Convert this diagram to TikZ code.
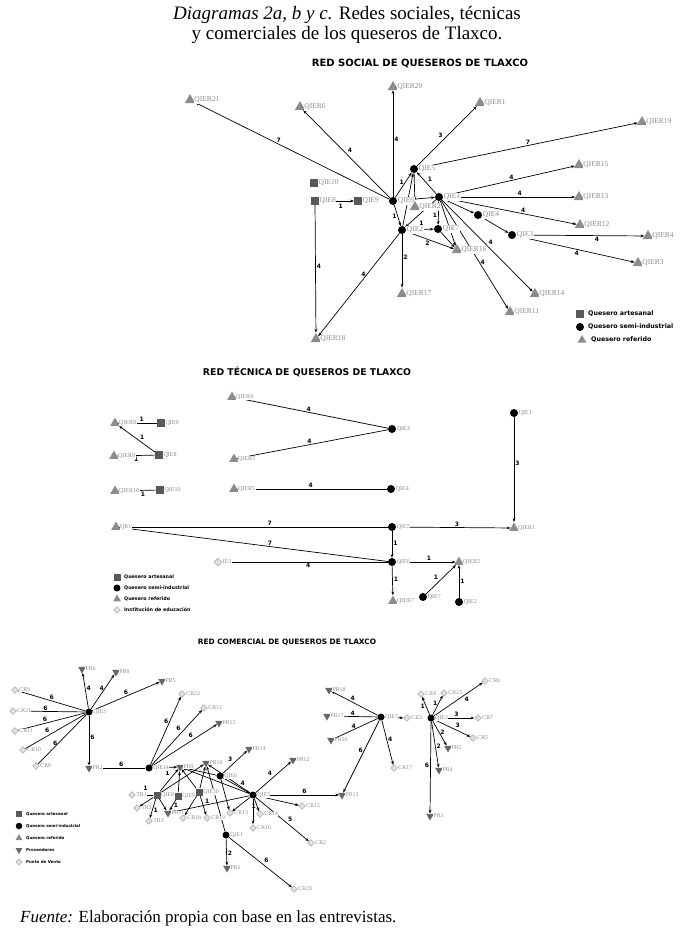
\documentclass[tikz,border=0pt]{standalone}
\usepackage{fontspec}
\setmainfont{Liberation Serif}
\newfontfamily\dejavu{DejaVu Sans}
\usetikzlibrary{arrows.meta,shapes.geometric,backgrounds}

\begin{document}
\begin{tikzpicture}[x=1pt,y=-1pt,
  qa/.style={rectangle,fill=black!65,minimum size=#1,inner sep=0pt},qa/.default=7.5pt,
  qs/.style={circle,fill=black,minimum size=#1,inner sep=0pt},qs/.default=8pt,
  qr/.style={regular polygon,regular polygon sides=3,fill=black!45,minimum size=#1,inner sep=0pt},qr/.default=12pt,
  pv/.style={regular polygon,regular polygon sides=3,shape border rotate=180,fill=black!60,minimum size=#1,inner sep=0pt},pv/.default=10pt,
  pt/.style={diamond,draw=black!40,fill=black!12,minimum size=#1,inner sep=0pt},pt/.default=8pt,
  lbl/.style={font=\fontsize{#1}{#1}\selectfont,text=black!45,inner sep=.5pt,fill=white},
  wt/.style={font=\dejavu\bfseries\fontsize{6}{6}\selectfont,inner sep=1pt},
  arr/.style={-{Stealth[length=3.8pt,width=2.8pt]},line width=.7pt},
  ln/.style={line width=.7pt},
  ley/.style={font=\dejavu\bfseries\fontsize{#1}{#1}\selectfont,anchor=west,inner sep=0pt},
  titulo/.style={font=\dejavu\bfseries\fontsize{#1}{#1}\selectfont}]
\useasboundingbox (0,0) rectangle (691,937);

% titulos
\node[font=\fontsize{19}{20}\selectfont,align=center] (tit) at (347,25)
  {\textit{Diagramas 2a, b y c.} Redes sociales, técnicas\\y comerciales de los queseros de Tlaxco.};
\node[titulo=10] (rs) at (420,64) {RED SOCIAL DE QUESEROS DE TLAXCO};
\node[titulo=9.3] (rt) at (307,372) {RED TÉCNICA DE QUESEROS DE TLAXCO};
\node[titulo=7.4] (rc) at (287,642) {RED COMERCIAL DE QUESEROS DE TLAXCO};
\node[anchor=base west,font=\fontsize{17}{17}\selectfont,inner sep=0pt] (fte) at (20,922)
  {\textit{Fuente:} Elaboración propia con base en las entrevistas.};

% red social
\foreach \x/\y/\l in {314/183/QIE10,315/201/QIE8,358/201/QIE9}
  \node[qa,label={[lbl=7.5]right:\l}] (s\l) at (\x,\y) {};
\foreach \x/\y/\l in {393/201/QIE6,414/169/QIE5,439/197/QIE1,402/230/QIE2,438/229/QIE7,478/215/QIE4,512/235/QIE3}
  \node[qs,label={[lbl=7.5]right:\l}] (s\l) at (\x,\y) {};
\foreach \x/\y/\l in {190/100/QIER21,300/107/QIER6,393/87/QIER20,480/103/QIER1,642/122/QIER19,579/165/QIER15,
    579/197/QIER13,580/225/QIER12,648/236/QIER4,638/263/QIER3,535/294/QIER14,510/312/QIER11,457/250/QIER16,
    402/294/QIER17,316/339/QIER18,415/207/QIER2}
  \node[qr,label={[lbl=7.5]right:\l}] (s\l) at (\x,\y) {};

\node[qa] (sl1) at (580,314) {};
\node[ley=6.3] (slt1) at (588,314) {Quesero artesanal};
\node[qs=8pt] (sl2) at (580,327) {};
\node[ley=6.3] (slt2) at (588,327) {Quesero semi-industrial};
\node[qr=10pt] (sl3) at (582,340) {};
\node[ley=6.3] (slt3) at (591,340) {Quesero referido};

% red tecnica
\foreach \x/\y/\l in {161/423/QIE9,159/455/QIE8,160/490/QIE10}
  \node[qa,label={[lbl=6]right:\l}] (t\l) at (\x,\y) {};
\foreach \x/\y/\l in {392/429/QIE3,391/489/QIE4,392/527/QIE5,392/562/QIE6,514/413/QIE1,423/597/QIE7,459/602/QIE2}
  \node[qs,label={[lbl=6]right:\l}] (t\l) at (\x,\y) {};
\foreach \x/\y/\l in {232/397/QIER4,115/423/QIER8,114/456/QIER9,234/459/QIER3,115/491/QIER10,234/489/QIER5,
    116/527/QR1,393/601/QIER7,514/528/QIER1,459/562/QIER2}
  \node[qr=11pt,label={[lbl=6]right:\l}] (t\l) at (\x,\y) {};
\node[pt,label={[lbl=6]right:IE1}] (tIE1) at (218,562) {};

\node[qa=7pt] (tl1) at (117,577) {};
\node[ley=4.8] (tlt1) at (124,577) {Quesero artesanal};
\node[qs=7pt] (tl2) at (117,588) {};
\node[ley=4.8] (tlt2) at (124,588) {Quesero semi-industrial};
\node[qr=9pt] (tl3) at (117,599) {};
\node[ley=4.8] (tlt3) at (124,599) {Quesero referido};
\node[pt=7pt] (tl4) at (117,610) {};
\node[ley=4.8] (tlt4) at (124,610) {Institución de educación};

% red comercial
\foreach \x/\y/\l in {157/795/QIE8,178/796/QIE9,199/792/QIE10}
  \node[qa=7pt,label={[lbl=5.8]right:\l}] (c\l) at (\x,\y) {};
\foreach \x/\y/\l in {89/712/QIE3,149/768/QIE14,220/776/QIE6,253/795/QIE5,226/835/QIE1,381/717/QIE7,431/718/QIE2}
  \node[qs=7pt,label={[lbl=5.8]right:\l}] (c\l) at (\x,\y) {};
\foreach \x/\y/\l in {82/669/PR6,116/672/PR8,162/681/PR5,89/768/PR2,180/767/PR9,206/763/PR10,219/723/PR15,
    249/749/PR14,293/760/PR12,168/813/PR11,227/868/PR1,329/690/PR18,327/716/PR17,331/740/PR16,342/795/PR13,
    439/770/PR4,430/816/PR3}
  \node[pv=9pt,label={[lbl=5.8]right:\l}] (c\l) at (\x,\y) {};
\node[pv=9pt,label={[lbl=5.8]right:PR2}] (cPR2b) at (448,748) {};
\foreach \x/\y/\l in {15/690/CR9,13/711/CR21,15/731/CR11,23/750/CR10,36/766/CR8,182/694/CR22,204/708/CR12,
    132/795/TR1,137/808/TR2,149/821/TR3,183/818/CR18,207/818/CR19,230/813/CR13,260/814/CR14,253/828/CR16,
    302/806/CR15,311/843/CR2,294/889/CR20,407/718/CR3,394/768/CR17,421/694/CR4,444/693/CR23,485/681/CR6,
    478/718/CR7,473/738/CR5}
  \node[pt=7pt,label={[lbl=5.8]right:\l}] (c\l) at (\x,\y) {};

\node[qa=6pt] (cl1) at (19,814) {};
\node[ley=4] (clt1) at (26,814) {Quesero artesanal};
\node[qs=6.5pt] (cl2) at (19,826) {};
\node[ley=4] (clt2) at (26,826) {Quesero semi-industrial};
\node[qr=8pt] (cl3) at (19,838) {};
\node[ley=4] (clt3) at (26,838) {Quesero referido};
\node[pv=8pt] (cl4) at (19,850) {};
\node[ley=4] (clt4) at (26,850) {Proveedores};
\node[pt=6.5pt] (cl5) at (19,862) {};
\node[ley=4] (clt5) at (26,862) {Punto de Venta};

\begin{scope}[on background layer]
% conexiones red social
\foreach \a/\b/\w/\p/\q in {QIE6/QIER21/7/.57/south,QIE6/QIER6/4/.5/south west,QIE6/QIER20/4/.54/west,
    QIE5/QIER1/3/.45/south east,QIE5/QIER19/7/.5/south,QIE1/QIER15/4/.52/south,QIE1/QIER13/4/.58/south,
    QIE1/QIER12/4/.6/south,QIE3/QIER4/4/.63/north,QIE3/QIER3/4/.51/north,QIE1/QIER14/4/.5/south west,
    QIE1/QIER11/4/.57/west,QIE2/QIER16/2/.45/north,QIE2/QIER17/2/.44/west,QIE2/QIER18/4/.4/east,
    QIE8/QIER18/4/.48/west,QIE6/QIE5/1/.6/east,QIE6/QIE2/1/.55/east,
    QIE1/QIE7/1/.6/east}
  \draw[arr] (s\a) -- node[wt,pos=\p,anchor=\q] {\w} (s\b);
\draw[arr] (sQIE8) -- node[wt,pos=.62,anchor=north,yshift=-2pt] {1} (sQIE9);
\draw[arr] (sQIE2) -- node[wt,pos=.55,anchor=south,yshift=2.5pt] {1} (sQIE7);
\foreach \a/\b in {QIE1/QIE4,QIE4/QIE3,QIE1/QIER16,QIE7/QIER16,QIE2/QIE5,QIE5/QIER2,QIE6/QIE1,QIE1/QIE2}
  \draw[arr] (s\a) -- (s\b);
\draw[arr,{Stealth[length=3.8pt,width=2.8pt]}-] (sQIE5) -- node[wt,anchor=south west] {1} (sQIE1);

% conexiones red tecnica
\foreach \a/\b/\w/\p/\q in {QIER4/QIE3/4/.48/south,QIER3/QIE3/4/.48/south,QIER8/QIE9/1/.6/south,
    QIER9/QIE8/1/.5/north,QIER10/QIE10/1/.65/north,QIER5/QIE4/4/.49/south,QR1/QIE5/7/.56/south,
    QR1/QIE6/7/.56/south,IE1/QIE6/4/.52/north}
  \draw[ln] (t\a) -- node[wt,pos=\p,anchor=\q] {\w} (t\b);
\foreach \a/\b/\w/\p/\q in {QIE8/QIER8/1/.45/south west,QIE5/QIE6/1/.45/west,QIE6/QIER7/1/.45/west,
    QIE5/QIER1/3/.53/south,QIE1/QIER1/3/.44/west,QIE6/QIER2/1/.55/south,QIE7/QIER2/1/.45/south east,
    QIE2/QIER2/1/.5/west}
  \draw[arr] (t\a) -- node[wt,pos=\p,anchor=\q] {\w} (t\b);

% conexiones red comercial
\foreach \a/\b/\w/\p/\q in {CR9/QIE3/6/.5/south,CR21/QIE3/6/.42/south,CR11/QIE3/6/.4/south,
    CR10/QIE3/6/.42/south east,CR8/QIE3/6/.43/east,PR2/QIE14/6/.55/south,PR17/QIE7/4/.48/south,
    PR16/QIE7/4/.44/south}
  \draw[ln] (c\a) -- node[wt,pos=\p,anchor=\q] {\w} (c\b);
\foreach \a/\b/\w/\p/\q in {QIE3/PR6/4/.56/west,QIE3/PR8/4/.6/east,QIE3/PR5/6/.5/south,QIE3/PR2/6/.43/west,
    QIE14/CR22/6/.63/east,QIE14/CR12/6/.6/south east,QIE14/PR15/6/.65/south east,
    QIE6/PR14/3/.45/south east,QIE5/PR12/4/.5/south east,QIE6/QIE5/4/.6/south west,QIE5/PR13/6/.58/south,
    QIE5/CR14/1/.6/east,QIE5/CR2/5/.58/south west,QIE5/PR11/1/.54/south,QIE1/PR1/2/.55/west,
    QIE1/CR20/6/.54/south west,QIE8/TR3/1/.6/west,QIE9/PR11/1/.5/west,
    QIE7/PR18/4/.54/south,QIE7/CR17/4/.43/west,QIE7/PR13/6/.42/east,QIE2/CR4/1/.45/east,
    QIE2/CR23/1/.6/east,QIE2/CR6/4/.6/north west,QIE2/CR7/3/.55/south,QIE2/CR5/3/.55/south west,
    QIE2/PR2b/2/.45/west,QIE2/PR4/2/.54/west,QIE2/PR3/6/.48/east}
  \draw[arr] (c\a) -- node[wt,pos=\p,anchor=\q] {\w} (c\b);
\draw[arr] (cQIE14) -- node[wt,pos=.6,anchor=north,yshift=-2.5pt] {1} (cPR9);
\draw[arr] (cQIE8) -- node[wt,pos=.45,anchor=south,yshift=3pt] {1} (cTR1);
\foreach \a/\b in {QIE5/CR15,QIE5/CR16,QIE5/CR13,QIE8/TR2,QIE8/PR9,QIE9/PR9,QIE8/PR11,QIE10/PR9,
    QIE10/CR18,QIE10/CR19,QIE7/CR3,QIE8/PR10,QIE10/PR10,QIE6/PR9,QIE5/PR9,QIE5/PR10,QIE6/CR13,QIE1/PR10}
  \draw[arr] (c\a) -- (c\b);
\end{scope}
\end{tikzpicture}
\end{document}
